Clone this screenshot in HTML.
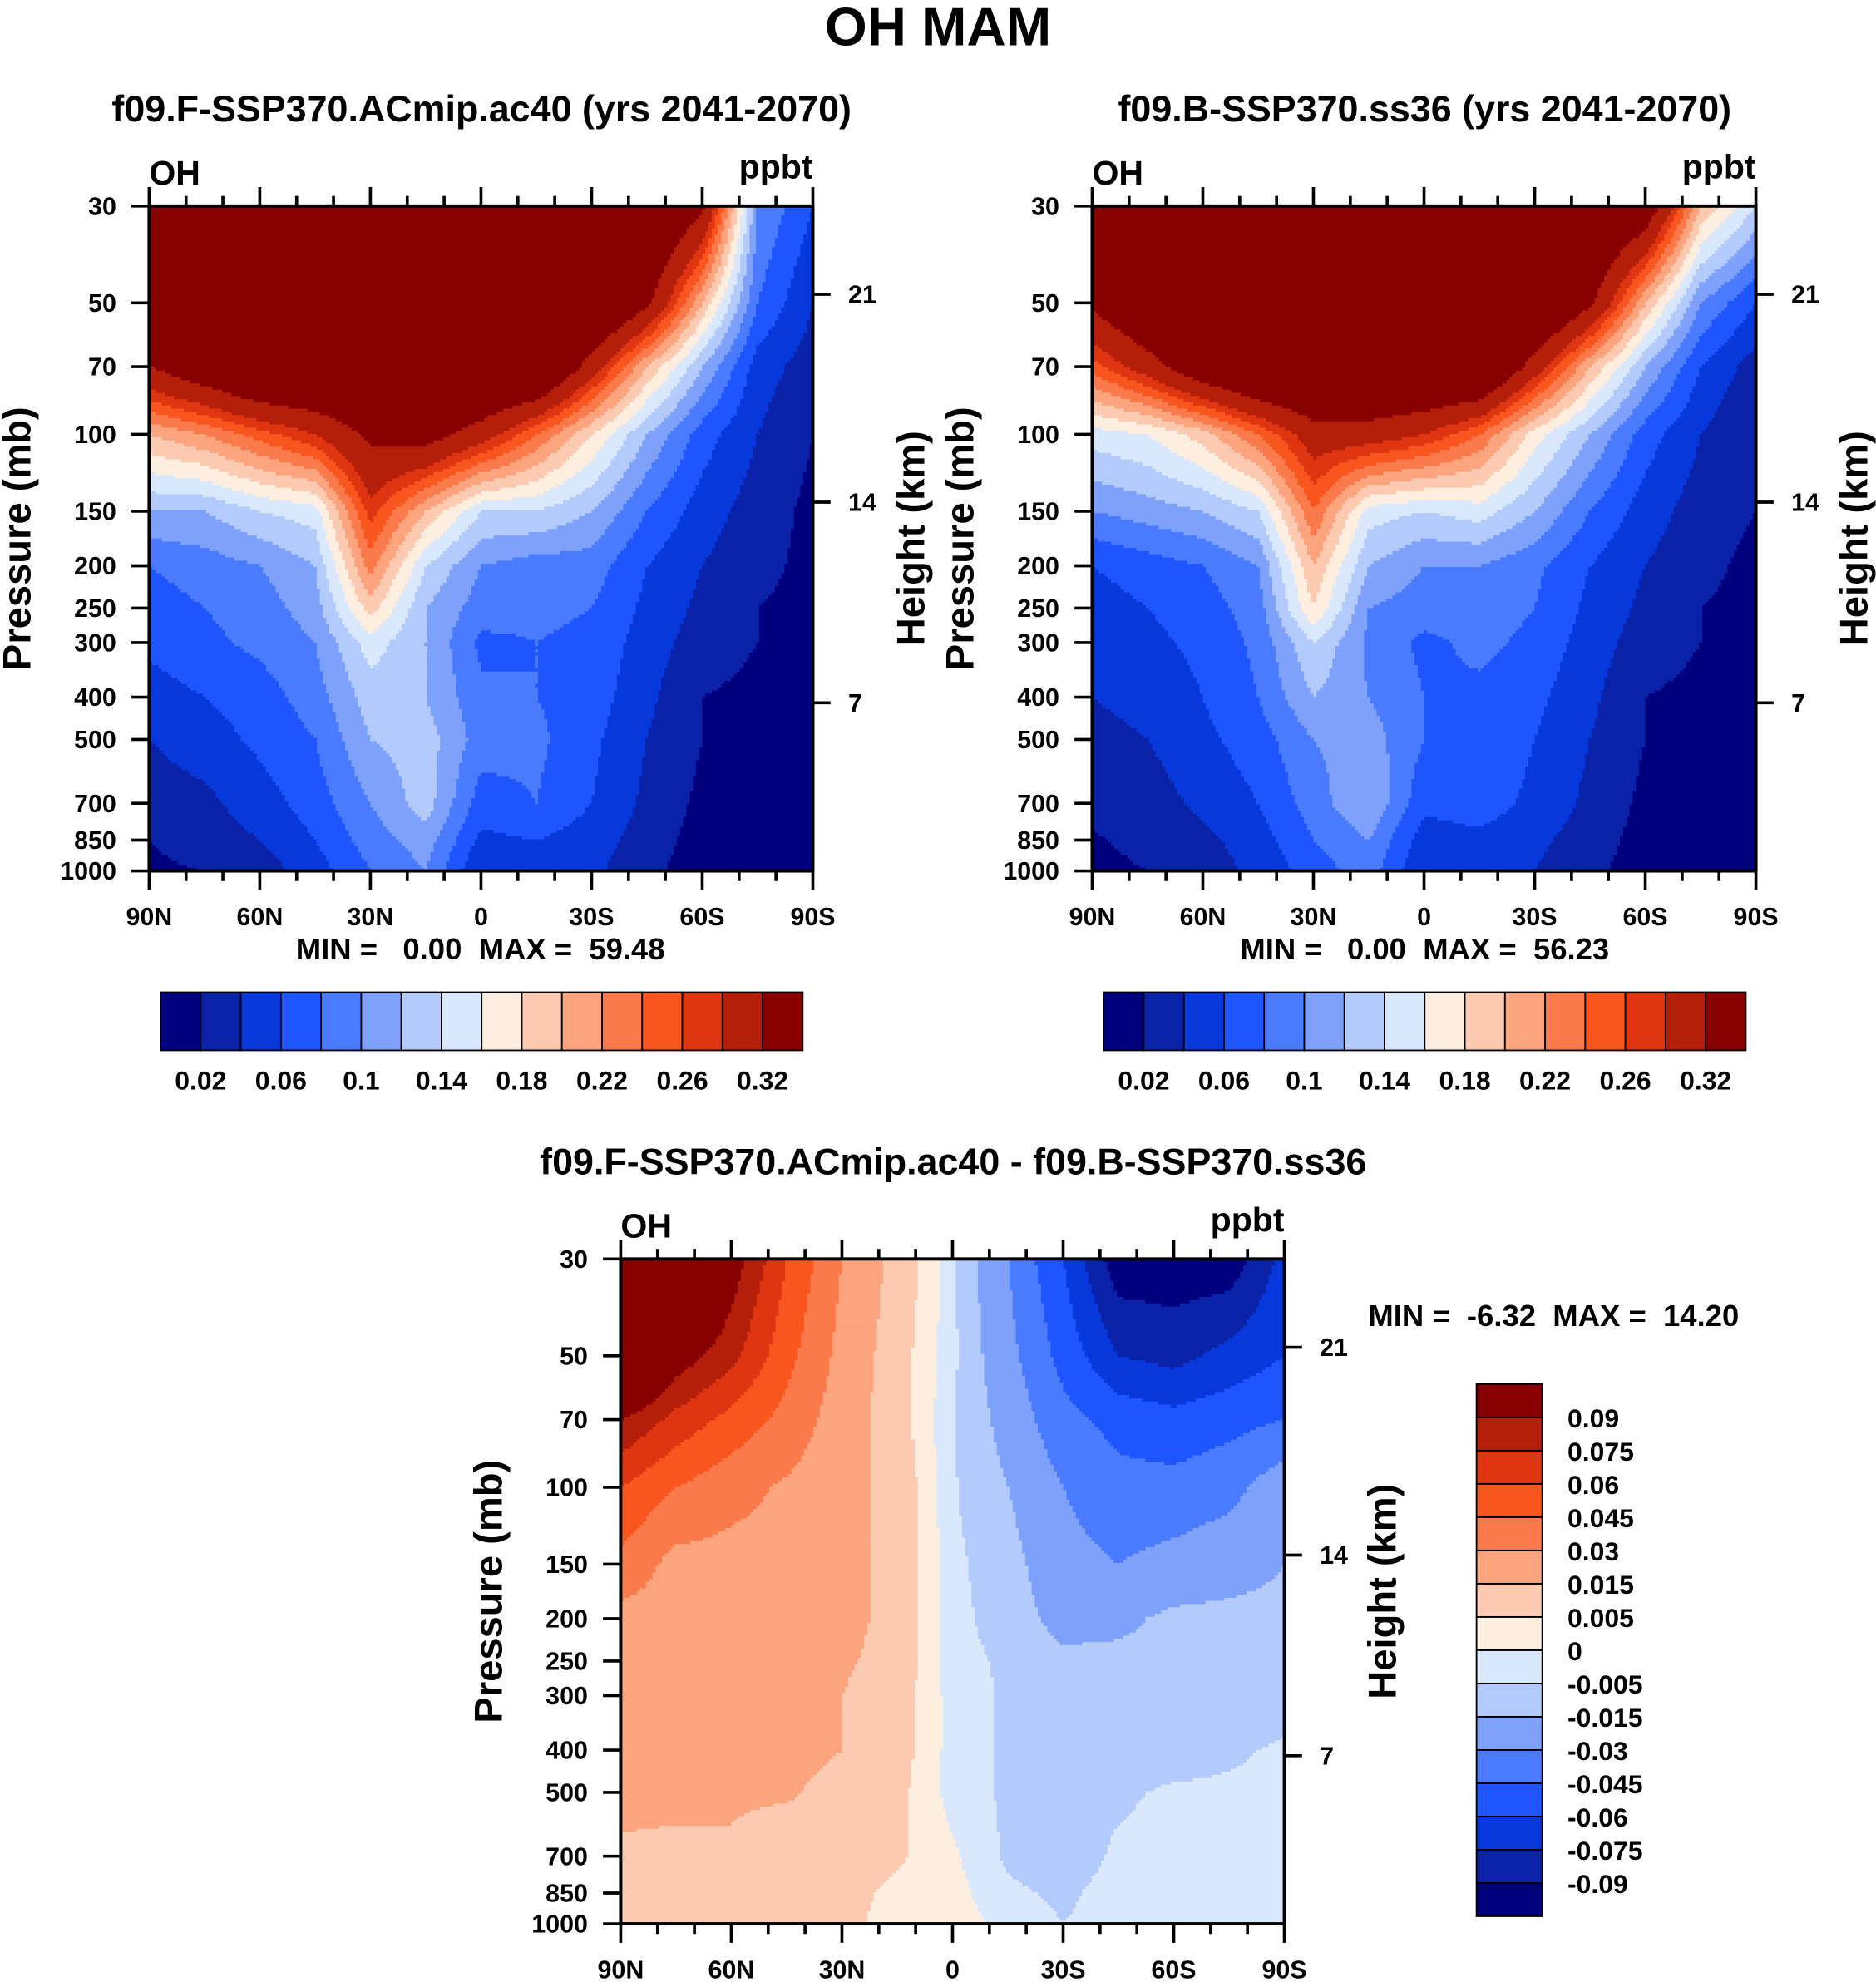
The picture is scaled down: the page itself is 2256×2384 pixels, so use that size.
<!DOCTYPE html>
<html><head><meta charset="utf-8"><style>
html,body{margin:0;padding:0;background:#fff;}
svg{display:block;font-family:"Liberation Sans",sans-serif;font-weight:bold;}
</style></head><body>
<svg id="fig" xmlns="http://www.w3.org/2000/svg" width="2256" height="2384" viewBox="0 0 1484 1568" preserveAspectRatio="none">
<text x="742" y="36" font-size="43" text-anchor="middle">OH MAM</text>
<text x="381" y="96" font-size="29.5" text-anchor="middle">f09.F-SSP370.ACmip.ac40 (yrs 2041-2070)</text>
<text x="1127" y="96" font-size="29.5" text-anchor="middle">f09.B-SSP370.ss36 (yrs 2041-2070)</text>
<text x="754" y="929" font-size="29.5" text-anchor="middle">f09.F-SSP370.ACmip.ac40 - f09.B-SSP370.ss36</text>
<text x="380" y="759" font-size="24" text-anchor="middle" xml:space="preserve">MIN =   0.00  MAX =  59.48</text>
<text x="1127" y="759" font-size="24" text-anchor="middle" xml:space="preserve">MIN =   0.00  MAX =  56.23</text>
<text x="1229" y="1049" font-size="24" text-anchor="middle" xml:space="preserve">MIN =  -6.32  MAX =  14.20</text>
<g id="layer"></g>
</svg>
<script>
const pressures=[30,50,70,100,150,200,250,300,400,500,700,850,1000];
const latLabels=['90N','60N','30N','0','30S','60S','90S'];
const heightTicks=[7,14,21];
const heightTickPressures=[412,143,47.8];
const colors16=['#00007f','#0a22a8','#0738dc','#1e55ff','#4a7bff','#7ea2fb','#b3cafc','#d9e8fc','#fdeee0','#fcc9b1','#fba47e','#fa7a4b','#f9561f','#df3510','#b51f0a','#890000'];
const levelsAbs=[0.02,0.04,0.06,0.08,0.1,0.12,0.14,0.16,0.18,0.2,0.22,0.24,0.26,0.28,0.32];
const labelsAbs=['0.02','0.06','0.1','0.14','0.18','0.22','0.26','0.32'];
const levelsDiff=[-0.09,-0.075,-0.06,-0.045,-0.03,-0.015,-0.005,0,0.005,0.015,0.03,0.045,0.06,0.075,0.09];
const labelsDiff=['-0.09','-0.075','-0.06','-0.045','-0.03','-0.015','-0.005','0','0.005','0.015','0.03','0.045','0.06','0.075','0.09'];
// rows: pressures; cols: 90N..90S every 15 deg
const ohF=[
[.4,.4,.4,.4,.4,.4,.4,.4,.4,.4,.33,.1,.06],
[.4,.4,.4,.4,.4,.4,.4,.4,.4,.33,.2,.08,.04],
[.32,.36,.4,.4,.4,.4,.4,.4,.3,.2,.12,.05,.03],
[.2,.22,.25,.28,.33,.34,.3,.24,.18,.12,.07,.04,.02],
[.12,.12,.14,.15,.27,.2,.14,.14,.12,.08,.05,.03,.015],
[.08,.09,.1,.12,.23,.14,.1,.09,.09,.06,.04,.025,.015],
[.07,.08,.09,.11,.19,.12,.09,.085,.08,.055,.035,.02,.015],
[.065,.075,.085,.1,.15,.12,.075,.08,.075,.05,.03,.02,.015],
[.05,.06,.07,.09,.13,.12,.085,.08,.07,.045,.02,.015,.01],
[.04,.05,.065,.08,.12,.13,.09,.085,.065,.04,.02,.012,.01],
[.03,.035,.05,.07,.1,.13,.07,.08,.06,.035,.015,.01,.01],
[.02,.03,.04,.06,.09,.11,.055,.06,.05,.03,.012,.01,.01],
[.016,.02,.03,.05,.08,.1,.04,.05,.045,.025,.01,.01,.01]];
const ohB=[
[.4,.4,.4,.4,.4,.4,.4,.4,.4,.4,.36,.2,.14],
[.33,.38,.4,.4,.4,.4,.4,.4,.4,.33,.2,.1,.06],
[.25,.3,.36,.4,.4,.4,.4,.4,.3,.2,.12,.06,.03],
[.15,.16,.19,.24,.3,.3,.28,.24,.17,.12,.07,.04,.02],
[.1,.11,.12,.14,.24,.15,.14,.15,.12,.08,.05,.03,.02],
[.06,.07,.08,.1,.2,.12,.1,.1,.085,.06,.04,.025,.015],
[.05,.06,.07,.09,.18,.1,.09,.09,.08,.055,.035,.02,.015],
[.045,.055,.065,.085,.14,.095,.075,.085,.075,.05,.03,.02,.015],
[.04,.045,.06,.08,.12,.1,.08,.075,.065,.045,.02,.015,.01],
[.035,.04,.055,.07,.1,.11,.08,.075,.06,.04,.02,.012,.01],
[.025,.03,.045,.06,.09,.12,.065,.07,.055,.035,.015,.01,.01],
[.018,.025,.035,.05,.08,.1,.05,.055,.045,.03,.012,.01,.01],
[.015,.02,.03,.045,.07,.09,.04,.045,.04,.025,.01,.01,.01]];
const ohDiff=[
[.2,.15,.1,.06,.03,.01,-.003,-.03,-.06,-.1,-.1,-.1,-.07],
[.15,.1,.08,.05,.025,.008,-.003,-.025,-.05,-.075,-.08,-.07,-.06],
[.09,.07,.055,.04,.022,.008,-.004,-.02,-.04,-.05,-.055,-.05,-.045],
[.06,.045,.035,.028,.02,.01,-.004,-.015,-.03,-.04,-.04,-.035,-.02],
[.04,.025,.025,.025,.02,.01,-.003,-.01,-.025,-.03,-.025,-.02,-.015],
[.025,.025,.025,.022,.02,.01,-.003,-.008,-.02,-.018,-.012,-.012,-.012],
[.022,.022,.022,.02,.017,.01,-.003,-.006,-.012,-.012,-.012,-.01,-.01],
[.02,.02,.02,.02,.015,.008,-.002,-.006,-.01,-.01,-.01,-.01,-.008],
[.02,.02,.02,.018,.015,.008,-.002,-.006,-.01,-.01,-.008,-.006,-.004],
[.02,.018,.016,.016,.012,.007,-.002,-.006,-.008,-.006,-.004,-.004,-.004],
[.012,.012,.014,.01,.012,.006,.001,-.006,-.008,-.004,-.003,-.003,-.003],
[.01,.01,.01,.01,.008,.003,.002,-.004,-.006,-.003,-.003,-.003,-.003],
[.01,.01,.01,.01,.008,.001,.003,-.002,-.005,-.003,-.003,-.003,-.003]];

const NS='http://www.w3.org/2000/svg';
const layer=document.getElementById('layer');
function mk(tag,attrs,parent){const e=document.createElementNS(NS,tag);for(const k in attrs)e.setAttribute(k,attrs[k]);(parent||layer).appendChild(e);return e;}
const lp0=Math.log(30),lp1=Math.log(1000);
function yOfP(p,y0,h){return y0+(Math.log(p)-lp0)/(lp1-lp0)*h;}
function xOfLat(lat,x0,w){return x0+(90-lat)/180*w;}
function sample(grid,fx,fy){
  const c=fx*12;let ci=Math.min(11,Math.floor(c));const tc=c-ci;
  const lp=lp0+fy*(lp1-lp0);let r=0;
  while(r<11&&Math.log(pressures[r+1])<lp)r++;
  const a=Math.log(pressures[r]),b=Math.log(pressures[r+1]);const tr=Math.min(1,Math.max(0,(lp-a)/(b-a)));
  const v00=grid[r][ci],v01=grid[r][ci+1],v10=grid[r+1][ci],v11=grid[r+1][ci+1];
  return (v00*(1-tc)+v01*tc)*(1-tr)+(v10*(1-tc)+v11*tc)*tr;
}
function levIdx(v,levels){let i=0;while(i<levels.length&&v>=levels[i])i++;return i;}
function panel(name,grid,levels,x0,y0,w,h){
  const g=mk('g',{});
  
  
  const nx=210,ny=210,dx=w/nx,dy=h/ny;
  for(let j=0;j<ny;j++){
    let start=0,cur=-1;
    for(let i=0;i<=nx;i++){
      const k=i<nx?levIdx(sample(grid,(i+0.5)/nx,(j+0.5)/ny),levels):-2;
      if(k!==cur){
        if(cur>=0){const r=mk('rect',{x:(x0+start*dx).toFixed(2),y:(y0+j*dy).toFixed(2),width:((i-start)*dx+0.6).toFixed(2),height:(dy+0.6).toFixed(2),fill:colors16[cur]},g);
          
          }
        cur=k;start=i;
      }
    }
  }
  const fr=mk('rect',{x:x0,y:y0,width:w,height:h,fill:'none',stroke:'#000','stroke-width':2.6});
  
  
  const ax=mk('g',{stroke:'#000','stroke-width':2.4});
  
  
  for(let lat=90;lat>=-90;lat-=10){
    const x=xOfLat(lat,x0,w);const L=(lat%30===0)?15:8;
    mk('line',{x1:x,y1:y0+h,x2:x,y2:y0+h+L},ax);mk('line',{x1:x,y1:y0,x2:x,y2:y0-L},ax);
  }
  latLabels.forEach((t,i)=>{const x=x0+i*w/6;const e=mk('text',{x:x,y:y0+h+43,'font-size':20,'text-anchor':'middle'});e.textContent=t;
    
    });
  pressures.forEach(p=>{const y=yOfP(p,y0,h);mk('line',{x1:x0,y1:y,x2:x0-14,y2:y},ax);
    const e=mk('text',{x:x0-26,y:y+7,'font-size':20,'text-anchor':'end'});e.textContent=p;
    
    });
  heightTicks.forEach((km,i)=>{const y=yOfP(heightTickPressures[i],y0,h);mk('line',{x1:x0+w,y1:y,x2:x0+w+14,y2:y},ax);
    const e=mk('text',{x:x0+w+28,y:y+7,'font-size':20});e.textContent=km;
    
    });
  let e=mk('text',{x:x0,y:y0-17,'font-size':27});e.textContent='OH';
  
  
  e=mk('text',{x:x0+w,y:y0-22,'font-size':27,'text-anchor':'end'});e.textContent='ppbt';
  
  
  e=mk('text',{x:0,y:0,'font-size':31,'text-anchor':'middle',transform:`translate(${x0-94},${y0+h/2}) rotate(-90)`});e.textContent='Pressure (mb)';
  
  
  e=mk('text',{x:0,y:0,'font-size':31,'text-anchor':'middle',transform:`translate(${x0+w+88},${y0+h/2}) rotate(-90)`});e.textContent='Height (km)';
  
  
}
function hbar(name,x0,y0,w,h){
  const g=mk('g',{});
  
  
  const bw=w/16;
  colors16.forEach((c,i)=>{const r=mk('rect',{x:x0+i*bw,y:y0,width:bw,height:h,fill:c,stroke:'#000','stroke-width':1.2},g);
    
    });
  labelsAbs.forEach((t,i)=>{const e=mk('text',{x:x0+(2*i+1)*bw,y:y0+h+31,'font-size':21,'text-anchor':'middle'},g);e.textContent=t;
    
    });
}
function vbar(name,x0,y0,w,h){
  const g=mk('g',{});
  
  
  const bh=h/16;
  colors16.forEach((c,i)=>{const r=mk('rect',{x:x0,y:y0+(15-i)*bh,width:w,height:bh,fill:c,stroke:'#000','stroke-width':1.2},g);
    
    });
  labelsDiff.forEach((t,i)=>{const e=mk('text',{x:x0+w+20,y:y0+(15-i)*bh+8,'font-size':21},g);e.textContent=t;
    
    });
}
panel('panel1',ohF,levelsAbs,118,163,525,526);
panel('panel2',ohB,levelsAbs,864,163,525,526);
panel('panel3',ohDiff,levelsDiff,491,996,525,526);
hbar('panel1-colorbar',127,785,508,46);
hbar('panel2-colorbar',873,785,508,46);
vbar('panel3-colorbar',1168,1095,52,421);
</script>
</body></html>
